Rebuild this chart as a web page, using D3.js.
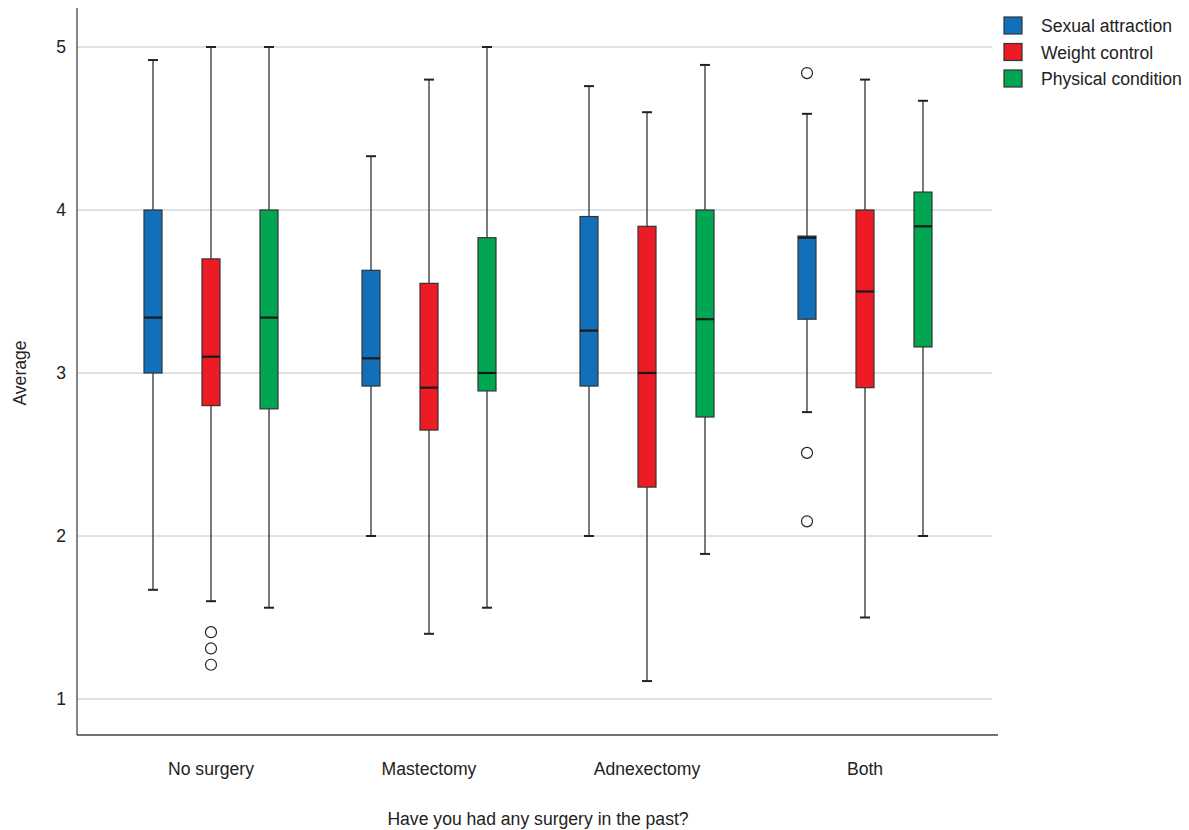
<!DOCTYPE html>
<html>
<head>
<meta charset="utf-8">
<script src="https://cdn.jsdelivr.net/npm/d3@7"></script>
<style>
  body { margin: 0; background: #fff; }
  svg { font-family: "Liberation Sans", Arial, sans-serif; }
</style>
</head>
<body>
<svg id="chart" width="1189" height="830"></svg>
<script>
// categories and series
const groups = ['No surgery', 'Mastectomy', 'Adnexectomy', 'Both'];
const series = ['Sexual attraction', 'Weight control', 'Physical condition'];
const colors = ['#1170b9', '#ed1c24', '#00a651'];
const yTicks = [1, 2, 3, 4, 5];

// box stats per series, one entry per group: [low whisker, q1, median, q3, high whisker]
const sexualAttraction = [
  [1.67, 3.0, 3.34, 4.0, 4.92],
  [2.0, 2.92, 3.09, 3.63, 4.33],
  [2.0, 2.92, 3.26, 3.96, 4.76],
  [2.76, 3.33, 3.83, 3.84, 4.59]
];
const weightControl = [
  [1.6, 2.8, 3.1, 3.7, 5.0],
  [1.4, 2.65, 2.91, 3.55, 4.8],
  [1.11, 2.3, 3.0, 3.9, 4.6],
  [1.5, 2.91, 3.5, 4.0, 4.8]
];
const physicalCondition = [
  [1.56, 2.78, 3.34, 4.0, 5.0],
  [1.56, 2.89, 3.0, 3.83, 5.0],
  [1.89, 2.73, 3.33, 4.0, 4.89],
  [2.0, 3.16, 3.9, 4.11, 4.67]
];
// outliers: [group index, series index, value]
const outliers = [
  [0, 1, 1.41], [0, 1, 1.31], [0, 1, 1.21],
  [3, 0, 4.84], [3, 0, 2.51], [3, 0, 2.09]
];

const stats = [sexualAttraction, weightControl, physicalCondition];

const svg = d3.select('#chart');
const fs = 17.6;

const x = d3.scaleBand().domain(groups).range([102, 974]);
const xs = d3.scaleBand().domain(d3.range(series.length)).range([-87, 87]);
const y = d3.scaleLinear().domain([1, 5]).range([699, 47]);

const plotL = 77, plotR = 992, plotB = 735, plotT = 8;
const boxW = 18, capW = 10;

// grid lines
svg.append('g')
  .selectAll('line')
  .data(yTicks)
  .enter().append('line')
  .attr('x1', plotL).attr('x2', plotR)
  .attr('y1', d => y(d)).attr('y2', d => y(d))
  .attr('stroke', '#c4c4c4').attr('stroke-width', 1);

// y tick labels
svg.append('g')
  .selectAll('text')
  .data(yTicks)
  .enter().append('text')
  .attr('x', 66)
  .attr('y', d => y(d))
  .attr('dy', '0.35em')
  .attr('text-anchor', 'end')
  .attr('font-size', fs)
  .attr('fill', '#222')
  .text(d => d);

// axes lines
svg.append('line').attr('x1', plotL).attr('x2', plotL).attr('y1', plotT).attr('y2', plotB)
  .attr('stroke', '#444').attr('stroke-width', 1.3);
svg.append('line').attr('x1', plotL).attr('x2', 998).attr('y1', plotB).attr('y2', plotB)
  .attr('stroke', '#444').attr('stroke-width', 1.3);

// boxes
const items = [];
groups.forEach((g, gi) => {
  series.forEach((s, si) => {
    const v = stats[si][gi];
    items.push({ g, si, lo: v[0], q1: v[1], med: v[2], q3: v[3], hi: v[4] });
  });
});

const box = svg.append('g').selectAll('g')
  .data(items)
  .enter().append('g')
  .attr('transform', d => 'translate(' + (x(d.g) + x.bandwidth() / 2 + xs(d.si) + xs.bandwidth() / 2) + ',0)');

box.append('line')
  .attr('x1', 0).attr('x2', 0)
  .attr('y1', d => y(d.hi)).attr('y2', d => y(d.lo))
  .attr('stroke', '#333').attr('stroke-width', 1.3);

box.append('line')
  .attr('x1', -capW / 2).attr('x2', capW / 2)
  .attr('y1', d => y(d.hi)).attr('y2', d => y(d.hi))
  .attr('stroke', '#222').attr('stroke-width', 2);
box.append('line')
  .attr('x1', -capW / 2).attr('x2', capW / 2)
  .attr('y1', d => y(d.lo)).attr('y2', d => y(d.lo))
  .attr('stroke', '#222').attr('stroke-width', 2);

box.append('rect')
  .attr('x', -boxW / 2)
  .attr('width', boxW)
  .attr('y', d => y(d.q3))
  .attr('height', d => y(d.q1) - y(d.q3))
  .attr('fill', d => colors[d.si])
  .attr('stroke', '#333').attr('stroke-width', 1.2);

box.append('line')
  .attr('x1', -boxW / 2).attr('x2', boxW / 2)
  .attr('y1', d => y(d.med)).attr('y2', d => y(d.med))
  .attr('stroke', '#1a1a1a').attr('stroke-width', 2.2);

// outliers
svg.append('g').selectAll('circle')
  .data(outliers)
  .enter().append('circle')
  .attr('cx', d => x(groups[d[0]]) + x.bandwidth() / 2 + xs(d[1]) + xs.bandwidth() / 2)
  .attr('cy', d => y(d[2]))
  .attr('r', 5.5)
  .attr('fill', 'none')
  .attr('stroke', '#222').attr('stroke-width', 1.2);

// x category labels
svg.append('g').selectAll('text')
  .data(groups)
  .enter().append('text')
  .attr('x', d => x(d) + x.bandwidth() / 2)
  .attr('y', 775)
  .attr('text-anchor', 'middle')
  .attr('font-size', fs)
  .attr('fill', '#222')
  .text(d => d);

// axis titles
svg.append('text')
  .attr('x', 538).attr('y', 825)
  .attr('text-anchor', 'middle')
  .attr('font-size', fs)
  .attr('fill', '#222')
  .text('Have you had any surgery in the past?');

svg.append('text')
  .attr('transform', 'translate(26,373) rotate(-90)')
  .attr('text-anchor', 'middle')
  .attr('font-size', fs)
  .attr('fill', '#222')
  .text('Average');

// legend
const legend = svg.append('g').selectAll('g')
  .data(series)
  .enter().append('g')
  .attr('transform', (d, i) => 'translate(1004,' + (17 + i * 26.5) + ')');

legend.append('rect')
  .attr('width', 18).attr('height', 17)
  .attr('fill', (d, i) => colors[i])
  .attr('stroke', '#333').attr('stroke-width', 1.2);

legend.append('text')
  .attr('x', 37).attr('y', 9)
  .attr('dy', '0.35em')
  .attr('font-size', fs)
  .attr('fill', '#222')
  .text(d => d);
</script>
</body>
</html>
